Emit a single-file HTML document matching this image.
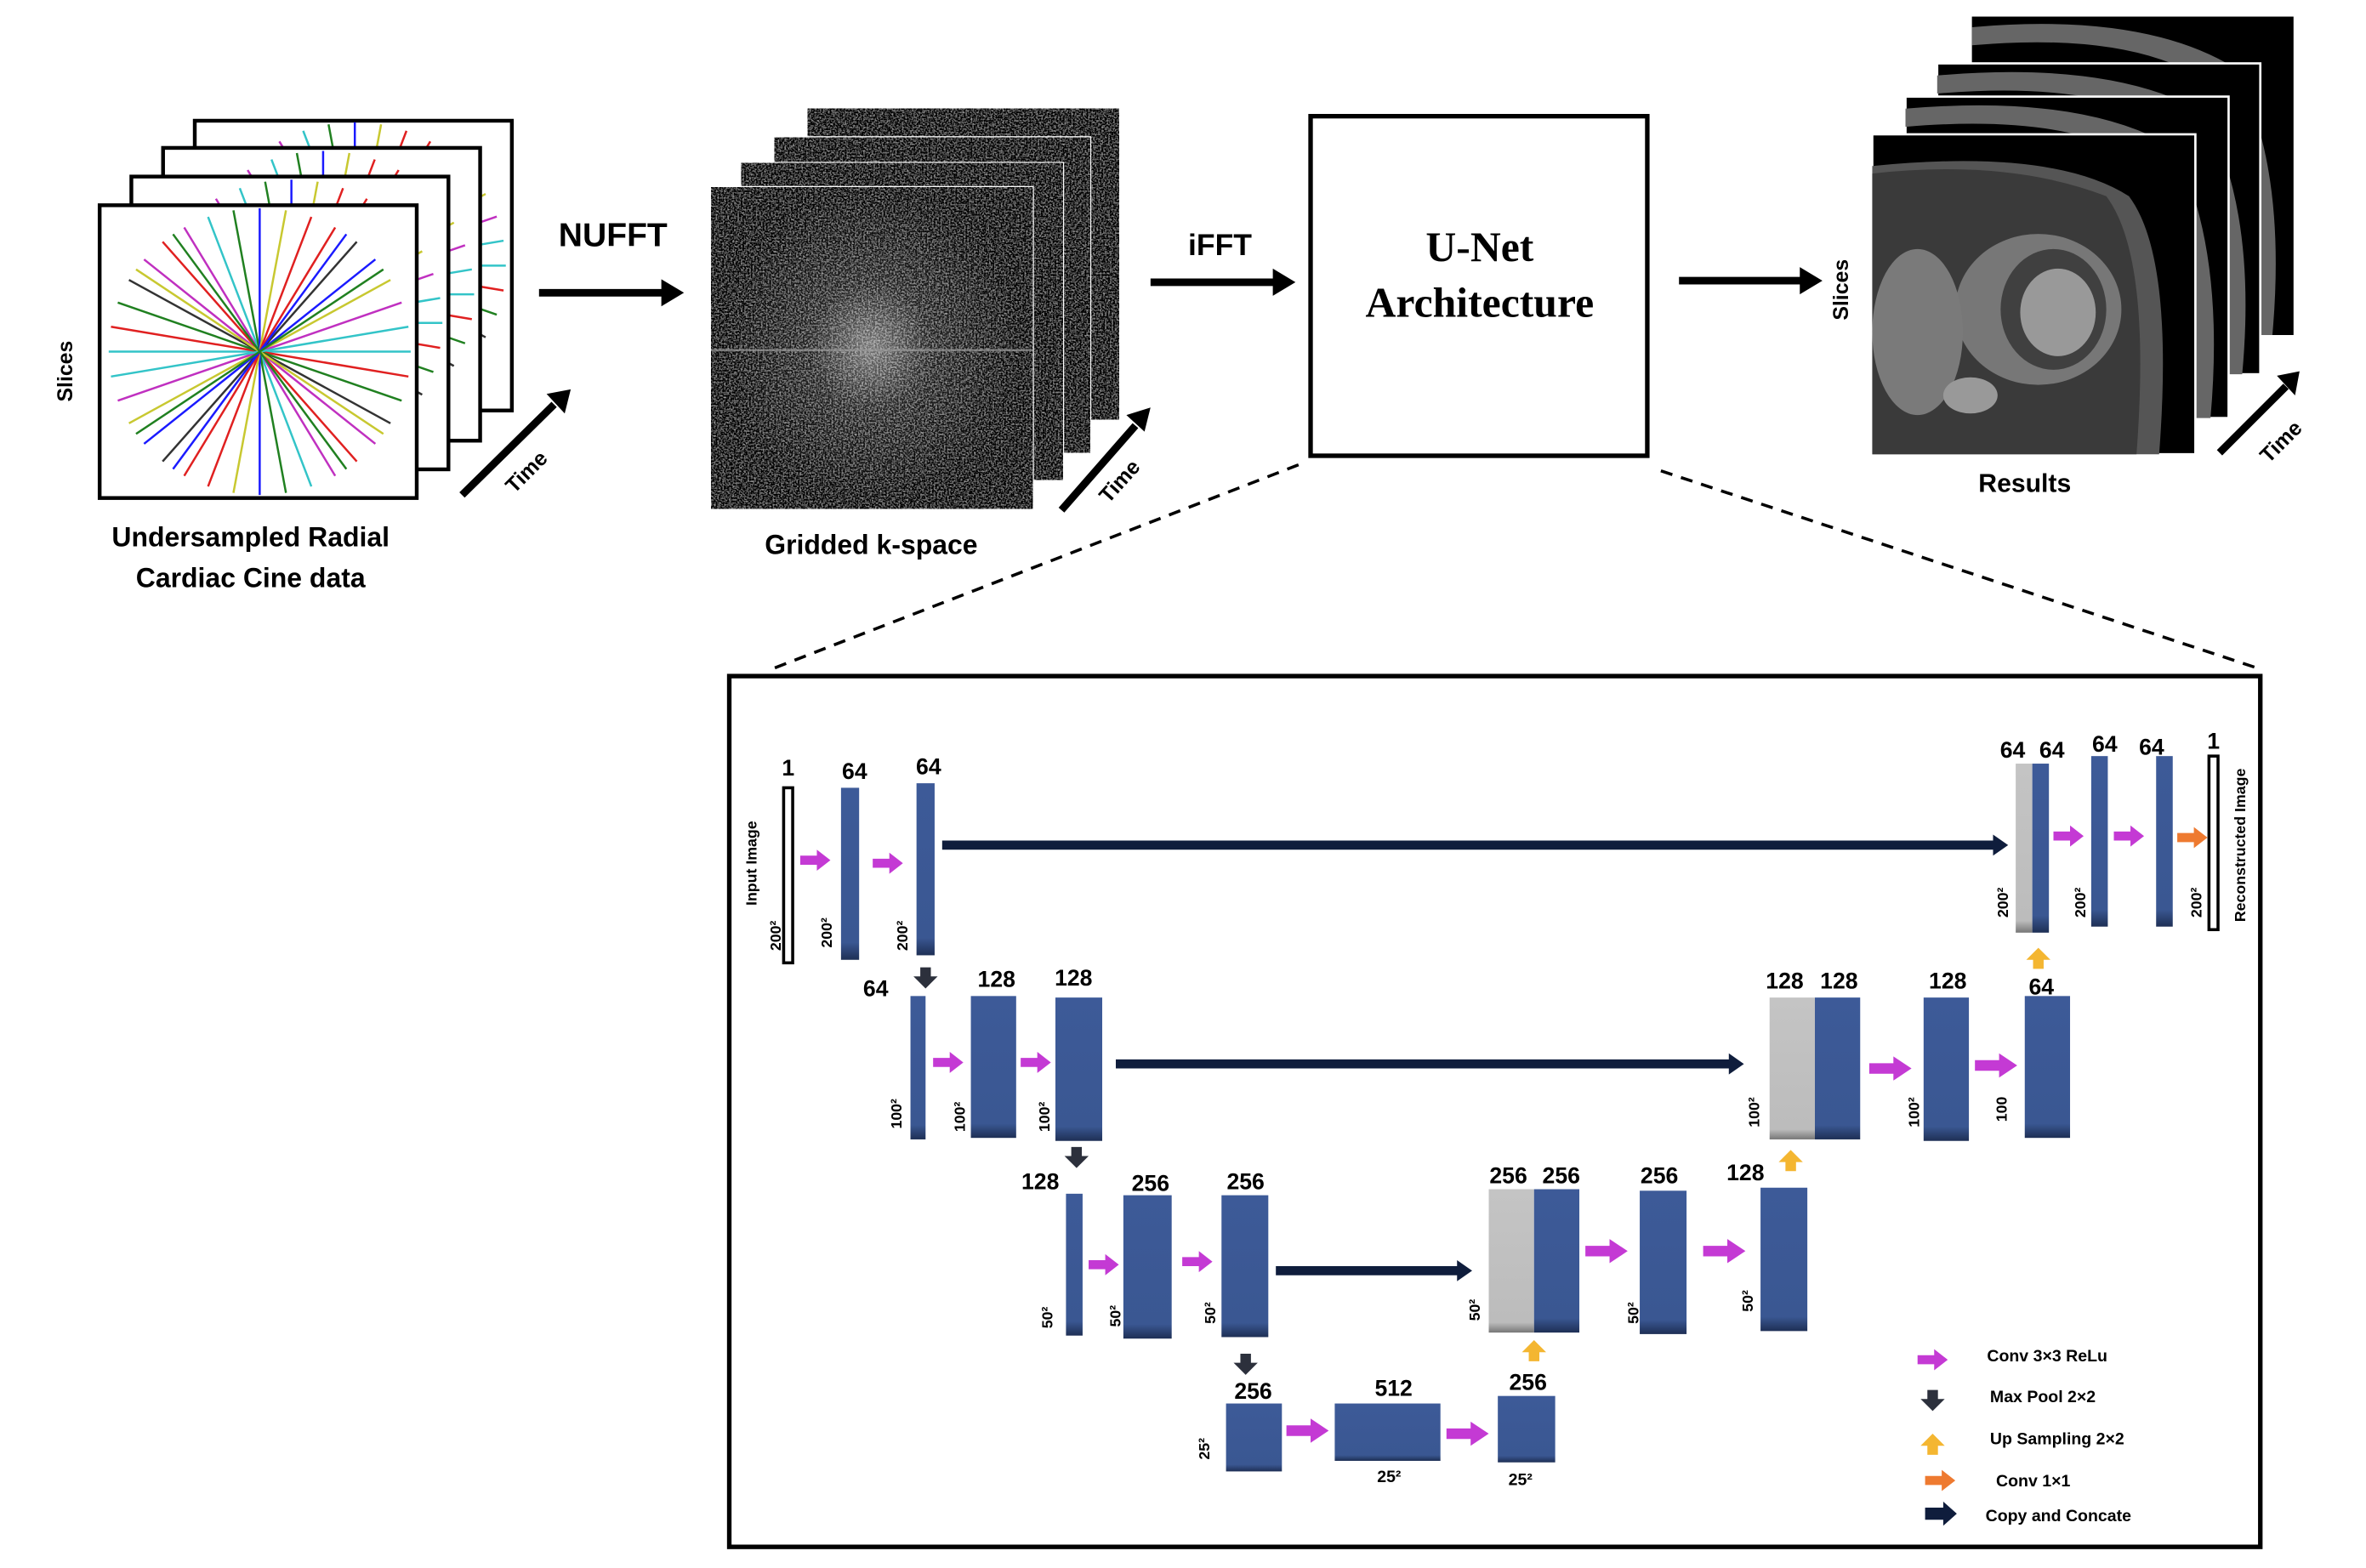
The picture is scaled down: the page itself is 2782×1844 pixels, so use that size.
<!DOCTYPE html>
<html><head><meta charset="utf-8"><style>
html,body{margin:0;padding:0;background:#fff;}
svg{display:block;}
text{font-family:"Liberation Sans Narrow","Liberation Sans",sans-serif;font-weight:bold;fill:#000;}
.s{font-family:"Liberation Sans",sans-serif;}
</style></head><body>
<svg width="2782" height="1844" viewBox="0 0 1567 1039" preserveAspectRatio="none" xmlns="http://www.w3.org/2000/svg" xmlns:xlink="http://www.w3.org/1999/xlink">
<defs>
<filter id="noise" x="0" y="0" width="100%" height="100%">
<feTurbulence type="fractalNoise" baseFrequency="0.9" numOctaves="2" seed="3"/>
<feColorMatrix type="matrix" values="0.33 0.33 0.33 0 0 0.33 0.33 0.33 0 0 0.33 0.33 0.33 0 0 0 0 0 0 1"/>
<feComponentTransfer><feFuncR type="linear" slope="1.3" intercept="-0.6"/><feFuncG type="linear" slope="1.3" intercept="-0.6"/><feFuncB type="linear" slope="1.3" intercept="-0.6"/></feComponentTransfer>
</filter>
<radialGradient id="kc" cx="0.5" cy="0.5" r="0.5"><stop offset="0" stop-color="#fff" stop-opacity="0.45"/><stop offset="0.4" stop-color="#fff" stop-opacity="0.12"/><stop offset="1" stop-color="#fff" stop-opacity="0"/></radialGradient>
<linearGradient id="bl" x1="0" y1="0" x2="0" y2="1"><stop offset="0" stop-color="#3d5a98"/><stop offset="0.9" stop-color="#3a5792"/><stop offset="1" stop-color="#1e2f55"/></linearGradient>
<linearGradient id="gr" x1="0" y1="0" x2="0" y2="1"><stop offset="0" stop-color="#c4c4c4"/><stop offset="0.93" stop-color="#bcbcbc"/><stop offset="1" stop-color="#777"/></linearGradient>
<g id="spokes" stroke-width="1.4">
<line x1="-100" y1="0" x2="100" y2="0" stroke="#33c4c8"/>
<line x1="-98.5" y1="-16.5" x2="98.5" y2="16.5" stroke="#e02020"/>
<line x1="-94" y1="-32.5" x2="94" y2="32.5" stroke="#208020"/>
<line x1="-86.6" y1="-47.5" x2="86.6" y2="47.5" stroke="#333"/>
<line x1="-76.6" y1="-61.1" x2="76.6" y2="61.1" stroke="#c030c0"/>
<line x1="-64.3" y1="-72.8" x2="64.3" y2="72.8" stroke="#e02020"/>
<line x1="-50" y1="-82.3" x2="50" y2="82.3" stroke="#c030c0"/>
<line x1="-34.2" y1="-89.3" x2="34.2" y2="89.3" stroke="#33c4c8"/>
<line x1="-17.4" y1="-93.6" x2="17.4" y2="93.6" stroke="#208020"/>
<line x1="0" y1="-95" x2="0" y2="95" stroke="#1a1aff"/>
<line x1="17.4" y1="-93.6" x2="-17.4" y2="93.6" stroke="#c8c830"/>
<line x1="34.2" y1="-89.3" x2="-34.2" y2="89.3" stroke="#e02020"/>
<line x1="50" y1="-82.3" x2="-50" y2="82.3" stroke="#e02020"/>
<line x1="64.3" y1="-72.8" x2="-64.3" y2="72.8" stroke="#333"/>
<line x1="76.6" y1="-61.1" x2="-76.6" y2="61.1" stroke="#1a1aff"/>
<line x1="86.6" y1="-47.5" x2="-86.6" y2="47.5" stroke="#c8c830"/>
<line x1="94" y1="-32.5" x2="-94" y2="32.5" stroke="#c030c0"/>
<line x1="98.5" y1="-16.5" x2="-98.5" y2="16.5" stroke="#33c4c8"/>
<line x1="-81.9" y1="-54.5" x2="81.9" y2="54.5" stroke="#c8c830"/>
<line x1="-57.4" y1="-77.8" x2="57.4" y2="77.8" stroke="#208020"/>
<line x1="57.4" y1="-77.8" x2="-57.4" y2="77.8" stroke="#1a1aff"/>
<line x1="81.9" y1="-54.5" x2="-81.9" y2="54.5" stroke="#208020"/>
</g>
<clipPath id="c1"><rect x="129" y="80" width="210" height="192"/></clipPath>
<clipPath id="c2"><rect x="108" y="98" width="210" height="194"/></clipPath>
<clipPath id="c3"><rect x="87" y="117" width="210" height="194"/></clipPath>
<clipPath id="c4"><rect x="66" y="136" width="210" height="194"/></clipPath>
<path id="pa" d="M0,-3 H11 V-7 L20,0 L11,7 V3 H0Z" fill="#c43ad4"/>
<path id="pb" d="M0,-3.5 H16 V-8 L28,0 L16,8 V3.5 H0Z" fill="#c43ad4"/>
<path id="oa" d="M0,-3 H11 V-7 L20,0 L11,7 V3 H0Z" fill="#ee7a30"/>
<path id="da" d="M-3.5,0 V6 H-8 L0,14 L8,6 H3.5 V0Z" fill="#2c303c"/>
<path id="ua" d="M-3.5,14 V8 H-8 L0,0 L8,8 H3.5 V14Z" fill="#f4b631"/>
</defs>

<rect x="129" y="80" width="210" height="192" fill="#fff" stroke="#000" stroke-width="2.5"/>
<g clip-path="url(#c1)"><use xlink:href="#spokes" transform="translate(235,176)"/></g>
<rect x="108" y="98" width="210" height="194" fill="#fff" stroke="#000" stroke-width="2.5"/>
<g clip-path="url(#c2)"><use xlink:href="#spokes" transform="translate(214,195)"/></g>
<rect x="87" y="117" width="210" height="194" fill="#fff" stroke="#000" stroke-width="2.5"/>
<g clip-path="url(#c3)"><use xlink:href="#spokes" transform="translate(193,214)"/></g>
<rect x="66" y="136" width="210" height="194" fill="#fff" stroke="#000" stroke-width="2.5"/>
<g clip-path="url(#c4)"><use xlink:href="#spokes" transform="translate(172,233)"/></g>
<text class="s" x="48" y="246" font-size="14" text-anchor="middle" transform="rotate(-90 48 246)">Slices</text>
<line x1="306" y1="328" x2="367" y2="268" stroke="#000" stroke-width="5"/>
<path d="M362,261 L378,258 L374,274Z" fill="#000"/>
<text class="s" x="352" y="316" font-size="14" text-anchor="middle" transform="rotate(-45 352 316)">Time</text>
<text x="166" y="362" font-size="18" text-anchor="middle">Undersampled Radial</text>
<text x="166" y="389" font-size="18" text-anchor="middle">Cardiac Cine data</text>

<text x="406" y="163" font-size="22" text-anchor="middle">NUFFT</text>
<line x1="357" y1="194" x2="440" y2="194" stroke="#000" stroke-width="5"/>
<path d="M438,185 L453,194 L438,203Z" fill="#000"/>

<g>
<rect x="535" y="72" width="206" height="206" fill="#333"/>
<rect x="535" y="72" width="206" height="206" filter="url(#noise)"/>
<rect x="513" y="91" width="209" height="209" fill="#333" stroke="#fff" stroke-width="1.5"/>
<rect x="513" y="91" width="209" height="209" filter="url(#noise)"/>
<rect x="491" y="108" width="213" height="210" fill="#333" stroke="#fff" stroke-width="1.5"/>
<rect x="491" y="108" width="213" height="210" filter="url(#noise)"/>
<rect x="471" y="124" width="213" height="213" fill="#333" stroke="#fff" stroke-width="1.5"/>
<rect x="471" y="124" width="213" height="213" filter="url(#noise)"/>
<ellipse cx="577" cy="230" rx="100" ry="105" fill="url(#kc)"/>
<line x1="471" y1="232" x2="684" y2="232" stroke="#999" stroke-width="1.5" opacity="0.7"/>
</g>
<line x1="703" y1="338" x2="752" y2="282" stroke="#000" stroke-width="5"/>
<path d="M746,275 L762,270 L758,286Z" fill="#000"/>
<text class="s" x="745" y="322" font-size="14" text-anchor="middle" transform="rotate(-48 745 322)">Time</text>
<text x="577" y="367" font-size="18" text-anchor="middle">Gridded k-space</text>

<text x="808" y="169" font-size="20" text-anchor="middle">iFFT</text>
<line x1="762" y1="187" x2="845" y2="187" stroke="#000" stroke-width="5"/>
<path d="M843,178 L858,187 L843,196Z" fill="#000"/>

<rect x="868" y="77" width="223" height="225" fill="#fff" stroke="#000" stroke-width="3"/>
<text x="980" y="173" font-size="28" text-anchor="middle" style="font-family:'Liberation Serif',serif">U-Net</text>
<text x="980" y="210" font-size="28" text-anchor="middle" style="font-family:'Liberation Serif',serif">Architecture</text>

<line x1="1112" y1="186" x2="1194" y2="186" stroke="#000" stroke-width="5"/>
<path d="M1192,177 L1207,186 L1192,195Z" fill="#000"/>

<g>
<rect x="1306" y="11" width="213" height="211" fill="#000"/>
<path d="M1306,30 Q1420,20 1470,60 Q1505,120 1490,222 L1505,222 Q1515,110 1480,45 Q1420,8 1306,18Z" fill="#666"/>
<rect x="1283" y="42" width="214" height="206" fill="#000" stroke="#fff" stroke-width="1.5"/>
<path d="M1283,62 Q1400,52 1450,92 Q1480,150 1470,248 L1485,248 Q1495,140 1460,75 Q1400,40 1283,50Z" fill="#666"/>
<rect x="1262" y="64" width="214" height="213" fill="#000" stroke="#fff" stroke-width="1.5"/>
<path d="M1262,84 Q1380,74 1430,114 Q1460,175 1450,277 L1464,277 Q1474,165 1440,98 Q1380,62 1262,72Z" fill="#666"/>
<rect x="1240" y="89" width="214" height="212" fill="#000" stroke="#fff" stroke-width="1.5"/>
<path d="M1240,110 Q1360,98 1410,130 Q1440,170 1430,301 L1240,301Z" fill="#555"/>
<path d="M1240,115 Q1330,105 1395,130 Q1425,170 1415,301 L1240,301Z" fill="#3a3a3a"/>
<ellipse cx="1350" cy="205" rx="55" ry="50" fill="#777"/>
<ellipse cx="1360" cy="205" rx="35" ry="40" fill="#404040"/>
<ellipse cx="1363" cy="207" rx="25" ry="29" fill="#999"/>
<ellipse cx="1270" cy="220" rx="30" ry="55" fill="#7a7a7a"/>
<ellipse cx="1305" cy="262" rx="18" ry="12" fill="#999"/>
</g>
<text class="s" x="1224" y="192" font-size="14" text-anchor="middle" transform="rotate(-90 1224 192)">Slices</text>
<line x1="1470" y1="300" x2="1514" y2="256" stroke="#000" stroke-width="5"/>
<path d="M1508,249 L1523,246 L1520,262Z" fill="#000"/>
<text class="s" x="1514" y="296" font-size="14" text-anchor="middle" transform="rotate(-45 1514 296)">Time</text>
<text x="1341" y="326" font-size="17" text-anchor="middle">Results</text>

<line x1="860" y1="308" x2="512" y2="443" stroke="#000" stroke-width="2" stroke-dasharray="8,6"/>
<line x1="1100" y1="312" x2="1496" y2="443" stroke="#000" stroke-width="2" stroke-dasharray="8,6"/>

<rect x="483" y="448" width="1014" height="577" fill="#fff" stroke="#000" stroke-width="3"/>

<g fill="#0f1d3c">
<path d="M624,557 H1320 V553 L1330,560 L1320,567 V563 H624Z"/>
<path d="M739,702 H1145 V698 L1155,705 L1145,712 V708 H739Z"/>
<path d="M845,839 H965 V835 L975,842 L965,849 V845 H845Z"/>
</g>

<g font-size="15" text-anchor="middle">
<rect x="519" y="522" width="6" height="116" fill="#fff" stroke="#000" stroke-width="2"/>
<text x="522" y="514">1</text>
<text class="s" x="501" y="572" font-size="10" transform="rotate(-90 501 572)">Input Image</text>
<text class="s" x="517" y="620" font-size="10" transform="rotate(-90 517 620)">200²</text>
<use xlink:href="#pa" x="530" y="570"/>
<rect x="557" y="522" width="12" height="114" fill="url(#bl)"/>
<text x="566" y="516">64</text>
<text class="s" x="551" y="618" font-size="10" transform="rotate(-90 551 618)">200²</text>
<use xlink:href="#pa" x="578" y="572"/>
<rect x="607" y="519" width="12" height="114" fill="url(#bl)"/>
<text x="615" y="513">64</text>
<text class="s" x="601" y="620" font-size="10" transform="rotate(-90 601 620)">200²</text>

<rect x="1335" y="506" width="11" height="112" fill="url(#gr)"/>
<rect x="1346" y="506" width="11" height="112" fill="url(#bl)"/>
<text x="1333" y="502">64</text><text x="1359" y="502">64</text>
<text class="s" x="1330" y="598" font-size="10" transform="rotate(-90 1330 598)">200²</text>
<use xlink:href="#pa" x="1360" y="554"/>
<rect x="1385" y="501" width="11" height="113" fill="url(#bl)"/>
<text x="1394" y="498">64</text>
<text class="s" x="1381" y="598" font-size="10" transform="rotate(-90 1381 598)">200²</text>
<use xlink:href="#pa" x="1400" y="554"/>
<rect x="1428" y="501" width="11" height="113" fill="url(#bl)"/>
<text x="1425" y="500">64</text>
<use xlink:href="#oa" x="1442" y="555"/>
<rect x="1463" y="501" width="6" height="115" fill="#fff" stroke="#000" stroke-width="2"/>
<text x="1466" y="496">1</text>
<text class="s" x="1458" y="598" font-size="10" transform="rotate(-90 1458 598)">200²</text>
<text class="s" x="1487" y="560" font-size="10" transform="rotate(-90 1487 560)">Reconstructed Image</text>
<use xlink:href="#ua" x="1350" y="628"/>

<use xlink:href="#da" x="613" y="641"/>
<text x="580" y="660">64</text>
<rect x="603" y="660" width="10" height="95" fill="url(#bl)"/>
<text class="s" x="597" y="738" font-size="10" transform="rotate(-90 597 738)">100²</text>
<use xlink:href="#pa" x="618" y="704"/>
<rect x="643" y="660" width="30" height="94" fill="url(#bl)"/>
<text x="660" y="654">128</text>
<text class="s" x="639" y="740" font-size="10" transform="rotate(-90 639 740)">100²</text>
<use xlink:href="#pa" x="676" y="704"/>
<rect x="699" y="661" width="31" height="95" fill="url(#bl)"/>
<text x="711" y="653">128</text>
<text class="s" x="695" y="740" font-size="10" transform="rotate(-90 695 740)">100²</text>

<rect x="1172" y="661" width="30" height="94" fill="url(#gr)"/>
<rect x="1202" y="661" width="30" height="94" fill="url(#bl)"/>
<text x="1182" y="655">128</text><text x="1218" y="655">128</text>
<text class="s" x="1165" y="737" font-size="10" transform="rotate(-90 1165 737)">100²</text>
<use xlink:href="#pb" x="1238" y="708"/>
<rect x="1274" y="661" width="30" height="95" fill="url(#bl)"/>
<text x="1290" y="655">128</text>
<text class="s" x="1271" y="737" font-size="10" transform="rotate(-90 1271 737)">100²</text>
<use xlink:href="#pb" x="1308" y="706"/>
<rect x="1341" y="660" width="30" height="94" fill="url(#bl)"/>
<text x="1352" y="659">64</text>
<text class="s" x="1329" y="735" font-size="10" transform="rotate(-90 1329 735)">100</text>
<use xlink:href="#ua" x="1186" y="762"/>

<use xlink:href="#da" x="713" y="760"/>
<text x="689" y="788">128</text>
<rect x="706" y="791" width="11" height="94" fill="url(#bl)"/>
<text class="s" x="697" y="873" font-size="10" transform="rotate(-90 697 873)">50²</text>
<use xlink:href="#pa" x="721" y="838"/>
<rect x="744" y="792" width="32" height="95" fill="url(#bl)"/>
<text x="762" y="789">256</text>
<text class="s" x="742" y="872" font-size="10" transform="rotate(-90 742 872)">50²</text>
<use xlink:href="#pa" x="783" y="836"/>
<rect x="809" y="792" width="31" height="94" fill="url(#bl)"/>
<text x="825" y="788">256</text>
<text class="s" x="805" y="870" font-size="10" transform="rotate(-90 805 870)">50²</text>

<rect x="986" y="788" width="30" height="95" fill="url(#gr)"/>
<rect x="1016" y="788" width="30" height="95" fill="url(#bl)"/>
<text x="999" y="784">256</text><text x="1034" y="784">256</text>
<text class="s" x="980" y="868" font-size="10" transform="rotate(-90 980 868)">50²</text>
<use xlink:href="#pb" x="1050" y="829"/>
<rect x="1086" y="789" width="31" height="95" fill="url(#bl)"/>
<text x="1099" y="784">256</text>
<text class="s" x="1085" y="870" font-size="10" transform="rotate(-90 1085 870)">50²</text>
<use xlink:href="#pb" x="1128" y="829"/>
<rect x="1166" y="787" width="31" height="95" fill="url(#bl)"/>
<text x="1156" y="782">128</text>
<text class="s" x="1161" y="862" font-size="10" transform="rotate(-90 1161 862)">50²</text>
<use xlink:href="#ua" x="1016" y="888"/>

<use xlink:href="#da" x="825" y="897"/>
<text x="830" y="927">256</text>
<rect x="812" y="930" width="37" height="45" fill="url(#bl)"/>
<text class="s" x="801" y="960" font-size="10" transform="rotate(-90 801 960)">25²</text>
<use xlink:href="#pb" x="852" y="948"/>
<rect x="884" y="930" width="70" height="38" fill="url(#bl)"/>
<text x="923" y="925">512</text>
<text class="s" x="920" y="982" font-size="11">25²</text>
<use xlink:href="#pb" x="958" y="950"/>
<rect x="992" y="925" width="38" height="44" fill="url(#bl)"/>
<text x="1012" y="921">256</text>
<text class="s" x="1007" y="984" font-size="11">25²</text>
</g>

<use xlink:href="#pa" x="1270" y="901"/>
<text x="1316" y="902" font-size="11">Conv 3×3 ReLu</text>
<use xlink:href="#da" x="1280" y="921"/>
<text x="1318" y="929" font-size="11">Max Pool 2×2</text>
<use xlink:href="#ua" x="1280" y="950"/>
<text x="1318" y="957" font-size="11">Up Sampling 2×2</text>
<use xlink:href="#oa" x="1275" y="981"/>
<text x="1322" y="985" font-size="11">Conv 1×1</text>
<path d="M1275,999 H1287 V995 L1296,1003 L1287,1011 V1007 H1275Z" fill="#0f1d3c"/>
<text x="1315" y="1008" font-size="11">Copy and Concate</text>
</svg>
</body></html>
